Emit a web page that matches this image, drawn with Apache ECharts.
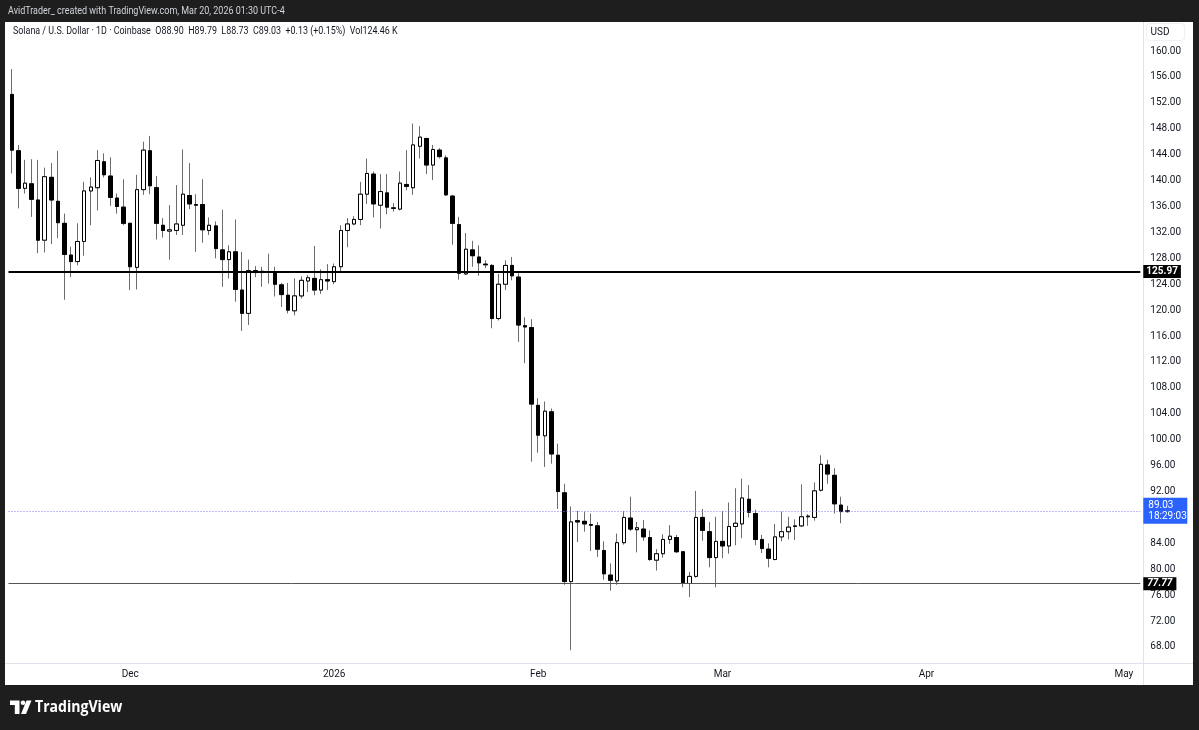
<!DOCTYPE html>
<html><head><meta charset="utf-8">
<script src="https://cdn.jsdelivr.net/npm/echarts@6/dist/echarts.min.js"></script>
<style>html,body{margin:0;padding:0;background:#1e1e1e;}#c{width:1199px;height:730px;}</style>
</head><body><div id="c"></div>
<script>
// ---- data (SOL/USD daily, Coinbase) ----
const startDay = '2025-11-13';
const totalSlots = 172;
const opens  = [153.3,144.6,138.8,139.5,137.0,130.8,140.5,136.8,133.4,128.5,127.5,130.6,138.4,138.9,142.9,140.7,137.3,135.9,
  133.4,126.6,138.6,144.6,138.9,133.1,132.2,132.3,133.1,137.7,136.3,136.3,132.3,133.0,129.3,127.8,129.0,123.1,119.5,126.1,125.8,125.9,125.8,123.9,122.3,119.9,122.2,124.5,124.9,123.1,124.7,
  124.4,126.7,132.3,133.3,134.0,137.9,141.0,136.2,138.1,135.7,135.6,139.4,138.9,145.3,146.5,142.4,144.7,143.5,137.6,133.2,125.6,129.3,128.2,127.1,126.9,118.7,124.0,126.9,125.1,117.6,117.3,
  105.3,100.6,104.3,97.6,91.8,78.1,87.5,87.4,86.9,86.7,82.9,79.1,78.2,84.1,87.9,86.1,86.2,84.9,81.4,82.4,84.6,84.9,82.7,77.8,78.9,88.0,85.8,81.8,
  84.3,83.6,86.6,87.0,90.8,88.6,84.6,83.1,81.5,85.0,85.8,86.6,86.7,88.1,88.0,92.2,96.1,94.5,89.9,88.90];
const highs  = [157.2,145.5,143.2,143.3,143.2,142.0,142.7,144.6,134.9,129.8,133.4,139.8,140.5,144.7,144.2,143.6,138.0,140.2,
  133.5,140.9,146.0,146.9,140.7,134.2,136.2,139.3,144.8,142.7,137.9,140.2,134.3,133.7,135.5,130.0,134.0,129.0,127.8,126.8,126.7,128.7,126.7,124.2,124.2,124.9,125.2,125.4,129.9,126.3,127.1,
  127.2,133.1,134.2,134.5,139.8,143.4,141.4,141.0,141.0,136.5,141.4,144.7,148.8,148.4,146.6,145.5,145.0,143.9,137.8,134.4,131.9,130.7,130.0,127.7,127.1,125.6,127.7,128.2,125.7,118.9,118.6,
  106.4,105.9,104.8,99.4,93.2,89.7,89.0,88.9,88.6,87.3,84.3,80.9,85.5,89.0,91.2,87.3,87.6,86.0,83.1,85.4,86.8,85.3,82.8,79.6,92.1,89.3,87.3,88.1,
  89.0,90.3,92.5,94.0,93.0,89.2,85.3,84.0,87.0,88.9,88.1,87.7,93.1,88.5,93.4,97.6,96.9,95.6,91.2,89.79];
const lows   = [141.1,135.7,138.0,134.4,128.8,128.9,130.2,131.1,121.6,125.1,126.9,128.4,133.1,135.4,140.5,136.1,134.9,133.1,
  123.1,123.2,137.8,137.9,130.9,131.2,127.8,131.6,131.6,135.6,129.0,130.4,131.6,128.0,123.6,124.9,121.3,116.8,117.7,125.1,123.6,124.1,122.1,120.5,119.5,119.2,121.8,122.8,122.3,122.5,123.1,
  124.0,125.9,129.7,133.1,133.1,136.4,134.3,132.6,134.8,135.2,135.4,138.5,137.8,143.4,141.0,140.1,143.4,137.6,130.1,124.7,125.4,126.7,125.3,126.5,117.2,118.4,123.1,124.6,115.1,111.8,96.6,
  98.0,95.8,96.3,89.3,77.6,67.5,84.2,85.8,82.8,81.9,78.4,76.7,77.6,83.8,85.9,82.6,84.4,81.3,79.8,81.8,83.9,82.5,77.2,75.7,78.7,84.4,80.3,77.2,
  81.7,82.4,83.7,84.8,88.0,83.7,82.5,80.3,81.4,84.3,84.6,84.5,86.5,86.7,87.5,92.0,93.2,88.6,87.1,88.73];
const closes = [144.7,138.8,139.6,137.1,130.8,140.6,137.0,133.5,128.6,127.5,130.6,138.4,139.0,143.1,140.9,137.4,136.0,133.4,
  126.7,138.6,144.7,139.2,133.4,132.3,132.4,133.3,137.9,136.4,136.2,132.4,133.1,129.5,127.8,129.0,123.2,119.5,126.1,125.8,126.0,125.9,124.0,122.4,120.0,122.2,124.6,125.0,123.1,124.7,124.5,
  126.7,132.3,133.3,134.0,137.9,141.1,136.4,138.3,135.9,135.8,139.6,139.1,145.5,146.7,142.4,144.8,143.7,137.8,133.4,125.7,129.4,128.4,127.3,127.0,118.7,124.0,126.9,125.3,117.7,117.4,105.5,
  100.7,104.4,97.8,92.0,78.1,87.3,87.3,87.0,86.8,83.1,79.3,78.3,84.1,88.0,86.2,86.4,85.0,81.5,82.4,84.6,85.1,82.7,77.9,78.9,88.0,86.0,81.8,84.3,
  83.6,86.6,87.1,91.0,88.8,84.6,83.2,81.7,85.0,85.8,86.5,86.7,88.1,88.2,92.1,96.2,94.7,90.1,88.9,89.03];
const tickDates  = ['2025-12-01','2026-01-01','2026-02-01','2026-03-01','2026-04-01','2026-05-01'];
const tickLabels = ['Dec','2026','Feb','Mar','Apr','May'];
const levelSupport = 77.77, levelResist = 125.97, lastPrice = 89.03, countdown = '18:29:03';
const headerText = 'AvidTrader_ created with TradingView.com, Mar 20, 2026 01:30 UTC-4';
const legendText = 'Solana / U.S. Dollar \u00b7 1D \u00b7 Coinbase  O88.90  H89.79  L88.73  C89.03  +0.13 (+0.15%)  Vol124.46 K';

// ---- build ----
const dates = [];
const t0 = Date.parse(startDay + 'T00:00:00Z');
for (let k = 0; k < totalSlots; k++) dates.push(new Date(t0 + k * 864e5).toISOString().slice(0, 10));
const full = opens.map((o, i) => [o, closes[i], lows[i], highs[i]]);
const bodies = opens.map((o, i) => [o, closes[i], Math.min(o, closes[i]), Math.max(o, closes[i])]);

const FONT = "Roboto,'Liberation Sans',sans-serif";
const TXT = '#131722';
const frame = '#1e1e1e';
const sep = '#e0e3eb';

const chart = echarts.init(document.getElementById('c'), null, {renderer: 'canvas'});
chart.setOption({
  animation: false,
  backgroundColor: '#ffffff',
  grid: {left: 8.5, right: 58.7, top: 25.1, bottom: 57.1, containLabel: false},
  xAxis: {
    type: 'category', data: dates, boundaryGap: true,
    axisLine: {show: false}, axisTick: {show: false}, splitLine: {show: false},
    axisLabel: {
      interval: (idx, val) => tickDates.indexOf(val) >= 0,
      formatter: v => tickLabels[tickDates.indexOf(v)] || '',
      margin: -3, color: TXT, fontSize: 10, fontFamily: FONT
    }
  },
  yAxis: {
    type: 'value', position: 'right', min: 64, max: 164, interval: 4, scale: true,
    axisLine: {show: false}, axisTick: {show: false}, splitLine: {show: false},
    axisLabel: {
      margin: 10, color: TXT, fontSize: 10, fontFamily: FONT,
      formatter: v => (v <= 64 || v >= 164) ? '' : v.toFixed(2)
    }
  },
  series: [
    {
      type: 'candlestick', data: full, barWidth: 4, z: 2, silent: true,
      itemStyle: {color: '#ffffff', color0: '#000000', borderColor: '#6b6b6b', borderColor0: '#6b6b6b', borderWidth: 1},
      markLine: {
        silent: true, symbol: ['none', 'none'], animation: false,
        data: [
          {yAxis: levelResist, lineStyle: {color: '#000000', width: 2, type: 'solid'},
           label: {show: true, position: 'end', distance: 3, formatter: levelResist.toFixed(2), color: '#fff', backgroundColor: '#000', padding: [2, 3, 1, 3], fontSize: 10, fontFamily: FONT, fontWeight: 'bold'}},
          {yAxis: levelSupport, lineStyle: {color: '#555555', width: 1, type: 'solid'},
           label: {show: true, position: 'end', distance: 3, formatter: levelSupport.toFixed(2), color: '#fff', backgroundColor: '#000', padding: [2, 4, 1, 4], fontSize: 10, fontFamily: FONT, fontWeight: 'bold', fontStyle: 'italic'}},
          {yAxis: lastPrice, lineStyle: {color: '#7a7af2', width: 1, type: [1, 2]},
           label: {show: true, position: 'end', distance: 3, formatter: lastPrice.toFixed(2) + '\n' + countdown, color: '#fff', backgroundColor: '#2962ff', padding: [2, 3, 2, 5], lineHeight: 11, fontSize: 10, fontFamily: FONT, width: 36}}
        ]
      }
    },
    {
      type: 'candlestick', data: bodies, barWidth: 4, z: 3, silent: true,
      itemStyle: {color: '#ffffff', color0: '#000000', borderColor: '#000000', borderColor0: '#000000', borderWidth: 1}
    }
  ],
  graphic: [
    {type: 'rect', shape: {x: 0, y: 0, width: 1199, height: 22}, style: {fill: frame}, z: 100},
    {type: 'rect', shape: {x: 0, y: 0, width: 5, height: 730}, style: {fill: frame}, z: 100},
    {type: 'rect', shape: {x: 1193, y: 0, width: 6, height: 730}, style: {fill: frame}, z: 100},
    {type: 'rect', shape: {x: 0, y: 685, width: 1199, height: 45}, style: {fill: frame}, z: 100},
    {type: 'line', shape: {x1: 1143.5, y1: 22, x2: 1143.5, y2: 685}, style: {stroke: sep, lineWidth: 1}, z: 1},
    {type: 'line', shape: {x1: 5, y1: 663.5, x2: 1193, y2: 663.5}, style: {stroke: sep, lineWidth: 1}, z: 1},
    {type: 'rect', shape: {x: 1146.5, y: 23.5, width: 38, height: 17, r: 3}, style: {fill: '#fff', stroke: '#eef0f3', lineWidth: 1}, z: 1},
    {type: 'text', x: 1160, y: 32, style: {text: 'USD', fill: TXT, font: "10px " + FONT, textAlign: 'center', textVerticalAlign: 'middle'}, z: 101},
    {type: 'text', x: 8, y: 11, scaleX: 0.78, style: {text: headerText, fill: '#d1d4dc', font: "11.5px " + FONT, textVerticalAlign: 'middle'}, z: 101},
    {type: 'text', x: 13, y: 31, scaleX: 0.81, style: {text: legendText, fill: TXT, font: "11px " + FONT, textVerticalAlign: 'middle'}, z: 101},
    // TradingView logo
    {type: 'polygon', shape: {points: [[10, 700.5], [19.5, 700.5], [19.5, 714], [14.8, 714], [14.8, 705], [10, 705]]}, style: {fill: '#ffffff'}, z: 101},
    {type: 'circle', shape: {cx: 23, cy: 702.8, r: 2.3}, style: {fill: '#ffffff'}, z: 101},
    {type: 'polygon', shape: {points: [[26.5, 700.5], [31.5, 700.5], [26, 714], [21, 714]]}, style: {fill: '#ffffff'}, z: 101},
    {type: 'text', x: 35, y: 707.5, scaleX: 0.88, style: {text: 'TradingView', fill: '#ffffff', font: "bold 16px 'Open Sans',Roboto,sans-serif", textVerticalAlign: 'middle'}, z: 101}
  ]
});
</script></body></html>
